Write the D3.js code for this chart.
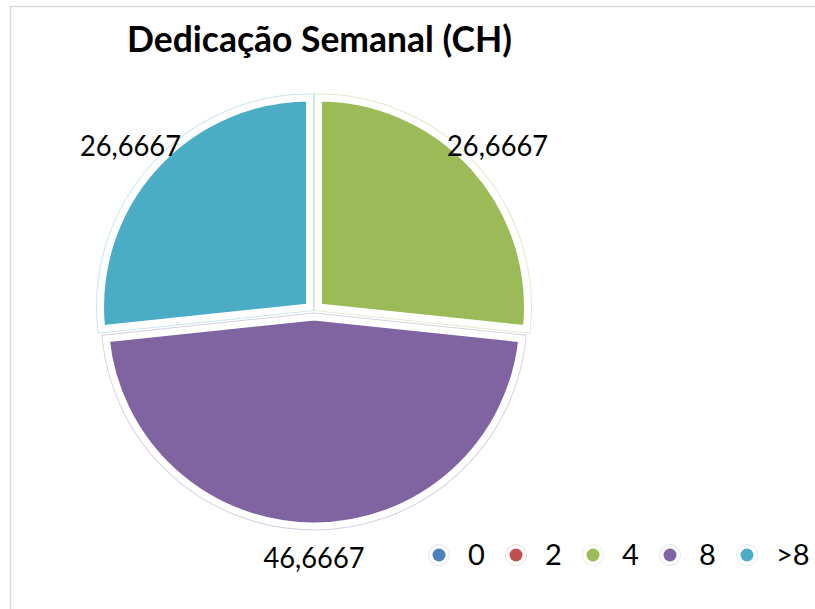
<!DOCTYPE html>
<html>
<head>
<meta charset="utf-8">
<script src="https://cdn.jsdelivr.net/npm/d3@7"></script>
<style>
  body { margin: 0; background: #fff; }
  svg { display: block; }
  text { font-family: Lato, "Open Sans", sans-serif; fill: #000; }
</style>
</head>
<body>
<div id="chart"></div>
<script>
const categories = ["0", "2", "4", "8", ">8"];
const values = [0, 0, 26.6667, 46.6667, 26.6667];
const valueLabels = ["0", "0", "26,6667", "46,6667", "26,6667"];
const colors = ["#4F81BD", "#C0504D", "#9BBB59", "#8064A2", "#4BACC6"];
const title = "Dedicação Semanal (CH)";

const width = 815;
const height = 609;
const cx = 314;
const cy = 311;
const radius = 209;
const explode = 6;

const data = categories.map((c, i) => ({ cat: c, value: values[i], label: valueLabels[i], color: colors[i] }));

const svg = d3
  .select("#chart")
  .append("svg")
  .attr("width", width)
  .attr("height", height);

// chart area border (only top and left visible)
svg
  .append("rect")
  .attr("x", 10.5)
  .attr("y", 6.5)
  .attr("width", width + 20)
  .attr("height", height + 20)
  .attr("fill", "none")
  .attr("stroke", "#d9d9d9")
  .attr("stroke-width", 1.5);

// title
svg
  .append("text")
  .attr("x", 127)
  .attr("y", 52)
  .attr("font-size", "36px")
  .attr("font-weight", "bold")
  .attr("textLength", 385)
  .attr("lengthAdjust", "spacingAndGlyphs")
  .text(title);

const pie = d3.pie().sort(null).value((d) => d.value);
const arcs = pie(data).filter((d) => d.data.value > 0);

const arc = d3.arc().innerRadius(0).outerRadius(radius);
const labelArc = d3.arc().innerRadius(247).outerRadius(247);

const g = svg.append("g").attr("transform", `translate(${cx},${cy})`);

function offset(d) {
  const a = (d.startAngle + d.endAngle) / 2;
  return `translate(${explode * Math.sin(a)},${-explode * Math.cos(a)})`;
}

// faint outer edge
g.selectAll(".edge")
  .data(arcs)
  .enter()
  .append("path")
  .attr("class", "edge")
  .attr("transform", offset)
  .attr("d", arc)
  .attr("fill", "none")
  .attr("stroke", (d) => d.data.color)
  .attr("stroke-opacity", 0.3)
  .attr("stroke-width", 9);

// slices with white border
g.selectAll(".slice")
  .data(arcs)
  .enter()
  .append("path")
  .attr("class", "slice")
  .attr("transform", offset)
  .attr("d", arc)
  .attr("fill", (d) => d.data.color)
  .attr("stroke", "#fff")
  .attr("stroke-width", 7)
  .attr("stroke-linejoin", "miter");

// data labels
g.selectAll(".lbl")
  .data(arcs)
  .enter()
  .append("text")
  .attr("class", "lbl")
  .attr("x", (d) => labelArc.centroid(d)[0])
  .attr("y", (d) => labelArc.centroid(d)[1] + 10)
  .attr("text-anchor", "middle")
  .attr("font-size", "29px")
  .attr("textLength", 101)
  .attr("lengthAdjust", "spacingAndGlyphs")
  .text((d) => d.data.label);

// legend
const legendX = d3.scalePoint().domain(categories).range([439, 747]);
const legend = svg
  .selectAll(".legend")
  .data(data)
  .enter()
  .append("g")
  .attr("class", "legend")
  .attr("transform", (d) => `translate(${legendX(d.cat)},555)`);

legend
  .append("circle")
  .attr("r", 10.5)
  .attr("fill", "#fff")
  .attr("stroke", (d) => d.color)
  .attr("stroke-opacity", 0.2)
  .attr("stroke-width", 1);

legend
  .append("circle")
  .attr("r", 6.5)
  .attr("fill", (d) => d.color);

legend
  .append("text")
  .attr("x", 29)
  .attr("y", 10)
  .attr("font-size", "29px")
  .text((d) => d.cat);
</script>
</body>
</html>
